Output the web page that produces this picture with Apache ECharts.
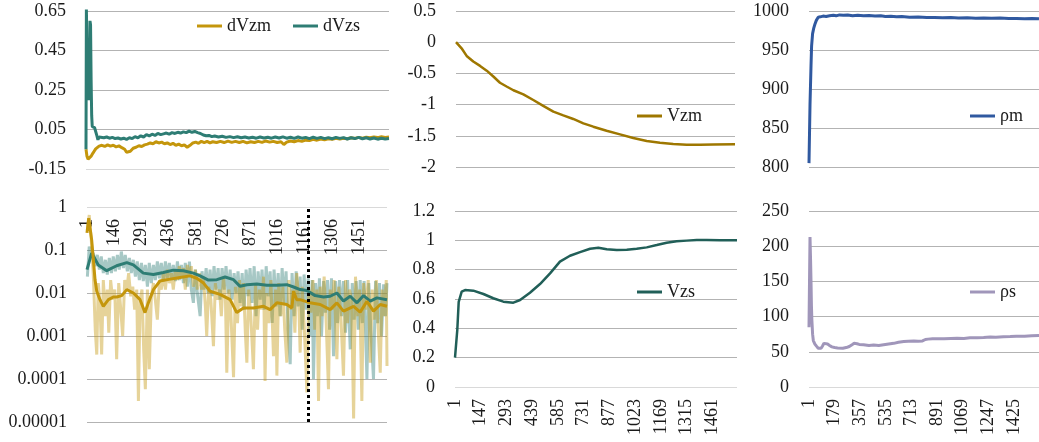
<!DOCTYPE html>
<html><head><meta charset="utf-8">
<script src="https://cdn.jsdelivr.net/npm/echarts@6/dist/echarts.min.js"></script>
<style>html,body{margin:0;padding:0;background:#fff}#c{width:1039px;height:442px}</style>
</head><body><div id="c"></div><script>
// ---------- data (index along run, value) ----------
const firstIdx = 1, lastIdx = 1600;
const p1YTicks = [-0.15, 0.05, 0.25, 0.45, 0.65];
const p2XTicks = [1,146,291,436,581,726,871,1016,1161,1306,1451];
const p4XTicks = [1,147,293,439,585,731,877,1023,1169,1315,1461];
const p6XTicks = [1,179,357,535,713,891,1069,1247,1425];
const markerIdx = 1179;

const dVzm = [[1,-0.05],[6,-0.085],[12,-0.1],[20,-0.095],[28,-0.085],[36,-0.072],[44,-0.06],[52,-0.048],[60,-0.04],[70,-0.034],[85,-0.03],[100,-0.036],[115,-0.028],[130,-0.034],[145,-0.03],[160,-0.038],[175,-0.033],[190,-0.042],[205,-0.05],[215,-0.065],[225,-0.072],[235,-0.06],[250,-0.045],[265,-0.04],[280,-0.032],[295,-0.036],[310,-0.028],[325,-0.024],[340,-0.018],[355,-0.022],[370,-0.012],[385,-0.018],[400,-0.014],[415,-0.022],[430,-0.018],[445,-0.026],[460,-0.02],[475,-0.03],[490,-0.024],[505,-0.032],[520,-0.028],[535,-0.04],[550,-0.03],[565,-0.018],[580,-0.014],[595,-0.02],[610,-0.01],[625,-0.016],[640,-0.01],[655,-0.018],[670,-0.012],[690,-0.016],[710,-0.01],[730,-0.016],[750,-0.009],[770,-0.015],[790,-0.01],[810,-0.016],[830,-0.01],[850,-0.018],[870,-0.012],[890,-0.016],[910,-0.01],[930,-0.015],[950,-0.008],[970,-0.014],[990,-0.01],[1010,-0.016],[1030,-0.012],[1045,-0.026],[1060,-0.014],[1080,-0.008],[1100,-0.012],[1120,-0.006],[1140,-0.01],[1160,-0.004],[1180,-0.006],[1200,0.0],[1220,-0.004],[1240,0.002],[1260,-0.002],[1280,0.003],[1300,0.0],[1320,0.005],[1340,0.002],[1360,0.006],[1380,0.003],[1400,0.008],[1420,0.005],[1440,0.01],[1460,0.006],[1480,0.011],[1500,0.008],[1520,0.012],[1540,0.009],[1560,0.013],[1580,0.01],[1600,0.012]];
const dVzs = [[1,-0.05],[3,0.66],[8,0.35],[14,0.2],[19,0.22],[22,0.6],[25,0.58],[28,0.3],[31,0.12],[34,0.065],[40,0.07],[46,0.06],[52,0.055],[58,0.02],[64,-0.002],[70,0.012],[80,0.016],[95,0.008],[110,0.012],[125,0.006],[140,0.01],[155,0.004],[170,0.007],[185,0.002],[200,0.006],[215,0.0],[230,0.008],[245,0.004],[260,0.014],[275,0.008],[290,0.018],[305,0.012],[320,0.024],[335,0.018],[350,0.026],[365,0.02],[380,0.03],[395,0.024],[410,0.028],[425,0.032],[440,0.026],[455,0.034],[470,0.03],[485,0.036],[500,0.032],[515,0.038],[530,0.034],[545,0.042],[560,0.036],[575,0.04],[590,0.034],[605,0.03],[620,0.022],[635,0.018],[650,0.02],[665,0.014],[680,0.017],[700,0.012],[720,0.016],[740,0.01],[760,0.014],[780,0.009],[800,0.013],[820,0.008],[840,0.012],[860,0.007],[880,0.011],[900,0.006],[920,0.012],[940,0.007],[960,0.011],[980,0.006],[1000,0.012],[1020,0.007],[1040,0.013],[1060,0.006],[1080,0.011],[1100,0.005],[1120,0.012],[1140,0.006],[1160,0.01],[1180,0.004],[1200,0.011],[1220,0.005],[1240,0.01],[1260,0.004],[1280,0.009],[1300,0.003],[1320,0.01],[1340,0.005],[1360,0.009],[1380,0.002],[1400,0.008],[1420,0.004],[1440,0.01],[1460,0.003],[1480,0.008],[1500,0.002],[1520,0.007],[1540,0.001],[1560,0.006],[1580,0.002],[1600,0.004]];

const absVzsRaw = [[3,0.024],[13,0.12],[24,0.071],[35,0.085],[45,0.042],[56,0.077],[67,0.035],[77,0.071],[88,0.029],[99,0.059],[109,0.027],[120,0.065],[131,0.029],[141,0.071],[152,0.032],[163,0.077],[173,0.035],[184,0.092],[195,0.038],[205,0.077],[216,0.032],[227,0.065],[237,0.029],[248,0.059],[259,0.024],[269,0.054],[280,0.02],[291,0.05],[301,0.019],[312,0.045],[323,0.014],[333,0.05],[344,0.017],[355,0.045],[365,0.02],[376,0.054],[387,0.022],[397,0.05],[408,0.019],[419,0.054],[429,0.022],[440,0.05],[451,0.02],[461,0.045],[472,0.019],[483,0.054],[493,0.02],[504,0.045],[515,0.017],[525,0.05],[536,0.014],[547,0.054],[557,0.012],[568,0.0059],[579,0.035],[589,0.01],[604,0.0029],[614,0.032],[625,0.012],[636,0.038],[646,0.01],[657,0.035],[668,0.0084],[678,0.042],[689,0.012],[700,0.038],[710,0.007],[721,0.038],[732,0.012],[742,0.042],[753,0.01],[764,0.035],[774,0.007],[785,0.029],[796,0.01],[806,0.032],[817,0.0059],[828,0.029],[838,0.0041],[849,0.035],[860,0.0084],[870,0.038],[881,0.0059],[892,0.042],[902,0.0029],[913,0.032],[924,0.007],[934,0.035],[945,0.0041],[956,0.042],[966,0.0084],[977,0.032],[988,0.002],[998,0.035],[1009,0.0049],[1020,0.029],[1030,0.0029],[1041,0.038],[1052,0.0059],[1062,0.032],[1073,0.0014],[1084,0.00022],[1094,0.029],[1105,0.0029],[1116,0.032],[1126,0.0049],[1137,0.024],[1148,0.0014],[1158,0.027],[1169,0.0041],[1180,0.022],[1190,0.001],[1201,0.02],[1208,0.0001],[1219,0.017],[1229,0.0029],[1240,0.022],[1251,0.001],[1262,0.019],[1272,0.0035],[1283,0.02],[1294,0.0014],[1304,0.022],[1315,0.00034],[1326,0.019],[1336,0.002],[1347,0.02],[1358,0.0029],[1368,0.019],[1379,0.0012],[1390,0.02],[1404,0.00049],[1415,0.017],[1425,0.0024],[1436,0.019],[1447,0.0014],[1457,0.02],[1468,0.002],[1478,0.019],[1493,0.0001],[1503,0.017],[1514,0.0014],[1528,0.0001],[1539,0.019],[1550,0.002],[1560,0.017],[1571,0.001],[1582,0.016],[1592,0.0029],[1600,0.017]];
const absVzmRaw = [[3,0.29],[13,0.65],[24,0.17],[35,0.024],[45,0.0014],[53,0.00037],[61,0.017],[70,0.0059],[79,0.00037],[88,0.02],[99,0.0029],[109,0.012],[117,0.0012],[127,0.02],[138,0.007],[149,0.012],[159,0.00029],[170,0.017],[181,0.0041],[191,0.001],[202,0.02],[213,0.012],[223,0.029],[234,0.0084],[245,0.014],[255,0.0041],[266,0.012],[275,0.000031],[284,0.007],[294,0.012],[303,0.00049],[312,0.000058],[323,0.012],[333,0.00017],[344,0.0084],[355,0.017],[365,0.007],[376,0.0024],[387,0.02],[397,0.012],[408,0.029],[419,0.012],[429,0.035],[440,0.017],[451,0.029],[461,0.012],[472,0.035],[483,0.02],[493,0.042],[504,0.024],[515,0.038],[525,0.012],[536,0.045],[547,0.024],[557,0.042],[568,0.014],[579,0.035],[589,0.012],[600,0.029],[611,0.012],[621,0.024],[632,0.0049],[639,0.001],[650,0.014],[661,0.007],[675,0.00058],[685,0.017],[696,0.007],[707,0.012],[717,0.0029],[728,0.024],[739,0.007],[746,0.00014],[757,0.012],[767,0.0041],[782,0.00011],[792,0.014],[803,0.002],[814,0.02],[824,0.0049],[835,0.017],[845,0.0012],[853,0.00024],[863,0.012],[874,0.0029],[888,0.00017],[899,0.017],[910,0.0014],[920,0.012],[931,0.0041],[942,0.024],[950,0.00009],[959,0.01],[970,0.002],[981,0.02],[995,0.00034],[1006,0.012],[1013,0.00012],[1023,0.017],[1034,0.0029],[1045,0.014],[1055,0.0014],[1066,0.00024],[1077,0.02],[1087,0.0041],[1098,0.012],[1109,0.0012],[1119,0.029],[1130,0.0059],[1137,0.00041],[1148,0.014],[1158,0.002],[1173,0.000049],[1183,0.012],[1194,0.0035],[1205,0.02],[1215,0.0014],[1226,0.012],[1235,0.000031],[1244,0.014],[1254,0.0029],[1265,0.024],[1276,0.002],[1288,0.000058],[1297,0.012],[1308,0.0041],[1318,0.02],[1333,0.00029],[1343,0.014],[1354,0.0029],[1368,0.00012],[1379,0.02],[1390,0.002],[1400,0.012],[1411,0.007],[1422,0.000012],[1432,0.024],[1443,0.0029],[1454,0.012],[1466,0.000031],[1475,0.017],[1486,0.0041],[1500,0.02],[1511,0.00024],[1521,0.012],[1532,0.0024],[1543,0.02],[1553,0.0014],[1564,0.00014],[1574,0.012],[1585,0.0029],[1596,0.02],[1600,0.0002]];
const absVzsSmooth = [[1,0.035],[26,0.085],[61,0.045],[106,0.033],[159,0.043],[213,0.051],[248,0.045],[301,0.029],[355,0.027],[408,0.03],[461,0.034],[515,0.033],[568,0.029],[604,0.025],[648,0.02],[693,0.0204],[737,0.0235],[782,0.0204],[817,0.0143],[853,0.0156],[906,0.0162],[959,0.0151],[1013,0.0151],[1066,0.0156],[1102,0.0138],[1137,0.012],[1173,0.0114],[1217,0.0087],[1262,0.0081],[1297,0.0084],[1333,0.01],[1368,0.0065],[1404,0.0084],[1440,0.0059],[1475,0.0087],[1511,0.0065],[1546,0.0077],[1600,0.007]];
const absVzmSmooth = [[1,0.25],[10,0.55],[17,0.5],[26,0.17],[35,0.059],[44,0.02],[53,0.011],[70,0.007],[88,0.0049],[115,0.007],[141,0.0081],[159,0.0081],[186,0.0087],[213,0.012],[248,0.01],[284,0.007],[310,0.0035],[328,0.0059],[355,0.012],[390,0.019],[444,0.021],[497,0.023],[550,0.025],[586,0.022],[622,0.017],[657,0.011],[710,0.0093],[764,0.007],[799,0.0035],[835,0.0045],[888,0.0045],[942,0.0049],[977,0.0041],[1013,0.0059],[1066,0.0054],[1093,0.0045],[1102,0.011],[1119,0.007],[1137,0.007],[1190,0.0059],[1244,0.0054],[1297,0.0041],[1333,0.0059],[1368,0.0038],[1422,0.0049],[1457,0.0036],[1493,0.0064],[1528,0.0038],[1564,0.0054],[1600,0.0049]];

const Vzm = [[1,0],[5,-0.01],[33,-0.098],[62,-0.22],[100,-0.31],[139,-0.38],[177,-0.456],[215,-0.55],[253,-0.65],[291,-0.71],[330,-0.77],[387,-0.835],[444,-0.926],[501,-1.02],[559,-1.113],[616,-1.172],[673,-1.23],[731,-1.3],[788,-1.354],[864,-1.418],[941,-1.477],[1017,-1.535],[1094,-1.583],[1170,-1.61],[1246,-1.631],[1323,-1.642],[1399,-1.642],[1476,-1.64],[1600,-1.637]];
const Vzs = [[1,0.2],[14,0.389],[22,0.58],[39,0.65],[58,0.661],[105,0.657],[162,0.634],[218,0.605],[275,0.582],[332,0.575],[370,0.593],[426,0.643],[483,0.702],[540,0.775],[596,0.855],[653,0.895],[710,0.92],[767,0.943],[814,0.95],[861,0.939],[918,0.934],[975,0.936],[1031,0.943],[1088,0.952],[1145,0.968],[1201,0.984],[1258,0.993],[1315,0.998],[1372,1.002],[1428,1.002],[1504,1.0],[1600,1.0]];

const rhoM = [[1,805],[8,880],[15,930],[19,955],[26,971],[34,978],[42,983],[52,988],[65,992],[80,992.5],[99,993.5],[120,993],[144,994],[170,994.5],[190,993.8],[213,995],[240,994.5],[270,995],[304,994],[340,994.6],[380,994],[418,994.3],[460,993.5],[500,993.9],[532,993],[570,993.4],[610,992.6],[646,992.8],[700,992],[760,992.3],[820,991.6],[873,991.8],[930,991.3],[987,991.6],[1040,991],[1101,991.3],[1160,990.8],[1215,991.1],[1270,990.6],[1329,990.9],[1390,990.3],[1443,990.5],[1500,990.1],[1550,990.4],[1600,990]];
const rhoS = [[1,85],[8,213],[12,180],[15,150],[18,115],[21,95],[26,75],[31,66],[42,61],[53,58],[65,55],[76,53.5],[85,55],[94,58],[105,62],[117,63.5],[130,61],[144,59],[160,57],[179,56],[200,55.5],[236,55],[260,56],[281,57.5],[300,60],[315,62],[335,61.5],[350,60.5],[380,60],[418,59],[450,59.5],[486,59],[520,60],[555,61],[590,62],[623,63.5],[660,64.5],[691,65],[730,65.5],[760,65],[790,65.5],[810,67.5],[828,68],[860,68.5],[896,68.7],[940,68.5],[987,69],[1030,69.2],[1078,69],[1120,69.8],[1170,70],[1215,70.3],[1261,71],[1300,70.8],[1352,71.5],[1400,71.7],[1443,72],[1500,72.2],[1550,72.8],[1600,73]];

// ---------- styling ----------
const FONT = 'Liberation Serif';
const TXT = '#1a1a1a';
const GRIDC = '#b3b3b3', AXC = '#d9d9d9';
const C_GOLD = '#c4960c', C_TEAL = '#2e7d74', C_VZM = '#9e7700', C_VZS = '#215f58', C_RM = '#3059a0', C_RS = '#a096ba';
const plain = v => String(parseFloat(Number(v).toPrecision(4)));

const grids = [
  {left:86, top:11, width:303, height:158},
  {left:87, top:207, width:300, height:215},
  {left:456, top:11, width:279, height:156},
  {left:455, top:211, width:282, height:176},
  {left:809, top:11, width:234, height:156},
  {left:809, top:211, width:234, height:176}
];
function xAx(gi, ticks, extra) {
  const a = {
    type:'value', gridIndex:gi, min:firstIdx, max:lastIdx,
    splitLine:{show:false}, axisTick:{show:false}, axisLine:{show:false},
    axisLabel:{show:false}
  };
  if (ticks) {
    a.axisLabel = {show:true, customValues:ticks, rotate:90, margin:12, formatter:plain,
      fontFamily:FONT, fontSize:18, color:TXT, hideOverlap:false};
  }
  return Object.assign(a, extra||{});
}
function yAx(gi, o, lineColors) {
  return Object.assign({
    gridIndex:gi, type:'value',
    axisLine:{show:false}, axisTick:{show:false},
    axisLabel:{fontFamily:FONT, fontSize:18, color:TXT, margin:20, formatter:plain},
    splitLine:{show:true, lineStyle:{color:lineColors||GRIDC, width:1}}
  }, o);
}
const lg = (names, left, top) => ({
  data:names, left:left, top:top, icon:'rect', itemWidth:25, itemHeight:3, itemGap:22,
  padding:5, selectedMode:false,
  textStyle:{fontFamily:FONT, fontSize:18, color:TXT, lineHeight:20}
});
function ln(name, xi, data, color, width, extra) {
  return Object.assign({
    name:name, type:'line', xAxisIndex:xi, yAxisIndex:xi, data:data,
    showSymbol:false, symbol:'none', smooth:false,
    lineStyle:{color:color, width:width}, itemStyle:{color:color},
    emphasis:{disabled:true}
  }, extra||{});
}

const option = {
  animation:false,
  backgroundColor:'#ffffff',
  grid:grids,
  xAxis:[xAx(0), xAx(1, p2XTicks, {position:'bottom', offset:-215}), xAx(2), xAx(3, p4XTicks), xAx(4), xAx(5, p6XTicks)],
  yAxis:[
    yAx(0, {min:-0.15, max:0.65, axisLabel:{fontFamily:FONT, fontSize:18, color:TXT, margin:20, formatter:plain, customValues:p1YTicks}, axisTick:{show:false, customValues:p1YTicks}}, [AXC, GRIDC, GRIDC, GRIDC, GRIDC]),
    yAx(1, {type:'log', logBase:10, min:0.00001, max:1,
      axisLabel:{fontFamily:FONT, fontSize:18, color:TXT, margin:20, formatter:v=>String(parseFloat(Number(v).toPrecision(2)))}},
      [GRIDC, GRIDC, GRIDC, GRIDC, GRIDC, AXC]),
    yAx(2, {min:-2, max:0.5, interval:0.5}),
    yAx(3, {min:0, max:1.2, interval:0.2}, [AXC, GRIDC, GRIDC, GRIDC, GRIDC, GRIDC, GRIDC]),
    yAx(4, {min:800, max:1000, interval:50}),
    yAx(5, {min:0, max:250, interval:50}, [AXC, GRIDC, GRIDC, GRIDC, GRIDC, GRIDC])
  ],
  legend:[
    lg(['dVzm','dVzs'], 192, 11),
    lg(['Vzm'], 632, 101),
    lg(['Vzs'], 632, 277),
    lg(['ρm'], 965, 101),
    lg(['ρs'], 965, 277)
  ],
  series:[
    ln('dVzm', 0, dVzm, C_GOLD, 3),
    ln('dVzs', 0, dVzs, C_TEAL, 3),
    ln('|dVzs| raw', 1, absVzsRaw, C_TEAL, 3, {lineStyle:{color:C_TEAL, width:3, opacity:0.42}}),
    ln('|dVzm| raw', 1, absVzmRaw, C_GOLD, 3, {lineStyle:{color:C_GOLD, width:3, opacity:0.42}}),
    ln('|dVzs| smooth', 1, absVzsSmooth, C_TEAL, 3),
    ln('|dVzm| smooth', 1, absVzmSmooth, C_GOLD, 3, {
      markLine:{silent:true, symbol:['none','none'], label:{show:false},
        lineStyle:{color:'#000', width:3, type:[3,3]}, emphasis:{disabled:true},
        data:[{xAxis:markerIdx}]}
    }),
    ln('Vzm', 2, Vzm, C_VZM, 2.5),
    ln('Vzs', 3, Vzs, C_VZS, 2.5),
    ln('ρm', 4, rhoM, C_RM, 3),
    ln('ρs', 5, rhoS, C_RS, 3)
  ]
};
const chart = echarts.init(document.getElementById('c'), null, {renderer:'canvas'});
chart.setOption(option);
</script></body></html>
